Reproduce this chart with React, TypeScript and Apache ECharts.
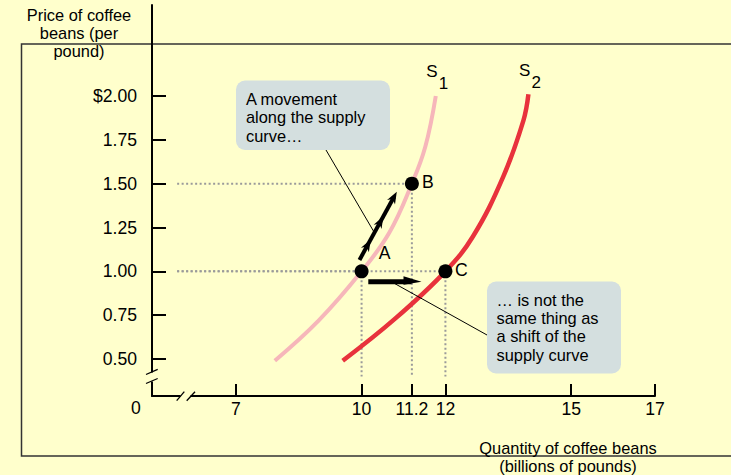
import React, { useEffect, useRef } from "react";
import * as echarts from "echarts";

// ---- data ----
const xTickValues = [7, 10, 11.2, 12, 15, 17];
const yTickValues = [0.5, 0.75, 1.0, 1.25, 1.5, 1.75, 2.0];

const s1X = [7.93, 8.98, 10, 10.66, 11.2, 11.52, 11.77];
const s1Y = [0.49, 0.72, 1.0, 1.22, 1.5, 1.71, 2.0];
const s2X = [9.55, 10.8, 12, 12.66, 13.38, 13.86, 13.98];
const s2Y = [0.49, 0.73, 1.0, 1.2, 1.54, 1.86, 2.01];

const pointNames = ["A", "B", "C"];
const pointX = [10, 11.2, 12];
const pointY = [1.0, 1.5, 1.0];

// arrows (tail, head) in data units
const moveArrowX = [9.95, 10.84];
const moveArrowY = [1.065, 1.454];
const shiftArrowX = [10.16, 11.43];
const shiftArrowY = [0.941, 0.941];

const boxLines1 = ["A movement", "along the supply", "curve…"];
const boxLines2 = ["… is not the", "same thing as", "a shift of the", "supply curve"];
const yTitleLines = ["Price of coffee", "beans (per", "pound)"];
const xTitleLines = ["Quantity of coffee beans", "(billions of pounds)"];

// ---- styles / layout ----
const BG = "#FFFFCC";
const FONT = "'Liberation Sans', Arial, Helvetica, sans-serif";
const FS = 17.6;
const FS_ML = 16.4;
const LH = 18.4;
const GUIDE_START_X = 5.6;
const GUIDE_END_Y = 0.4;

export default function App() {
  const ref = useRef<HTMLDivElement>(null);
  useEffect(() => {
    document.body.style.margin = "0";
    document.body.style.background = BG;
    const chart = echarts.init(ref.current!, undefined, { renderer: "svg" });
    const guideStyle = { color: "#9a9a9a", width: 2, type: [2, 2.5] as any };
    const guides: any[] = [];
    pointX.forEach((x, i) => {
      const y = pointY[i];
      guides.push({
        type: "line",
        data: [[GUIDE_START_X, y], [x, y]],
        symbol: "none",
        lineStyle: guideStyle,
        silent: true,
        z: 1,
      });
      guides.push({
        type: "line",
        data: [[x, y], [x, GUIDE_END_Y]],
        symbol: "none",
        lineStyle: guideStyle,
        silent: true,
        z: 1,
      });
    });
    const labelOffsets: Record<string, number[]> = { A: [23, -18], B: [16, -2], C: [16, -1] };
    chart.setOption({
      animation: false,
      backgroundColor: BG,
      textStyle: { fontFamily: FONT },
      grid: { left: 152, right: 76, top: 5, bottom: 79 },
      xAxis: {
        type: "value",
        min: 5,
        max: 17,
        axisLine: { show: true, lineStyle: { color: "#000", width: 2 } },
        axisTick: { show: true, inside: true, length: 12, customValues: xTickValues, lineStyle: { color: "#000", width: 2 } },
        axisLabel: { customValues: xTickValues, margin: 4, color: "#000", fontSize: FS, fontFamily: FONT },
        splitLine: { show: false },
      },
      yAxis: {
        type: "value",
        min: 0.289,
        max: 2.519,
        axisLine: { show: true, lineStyle: { color: "#000", width: 2 } },
        axisTick: { show: true, inside: true, length: 14, customValues: yTickValues, lineStyle: { color: "#000", width: 2 } },
        axisLabel: {
          customValues: yTickValues,
          margin: 15,
          color: "#000",
          fontSize: FS,
          fontFamily: FONT,
          formatter: (v: number) => (Math.abs(v - 2) < 1e-9 ? "$2.00" : v.toFixed(2)),
        },
        splitLine: { show: false },
      },
      series: [
        ...guides,
        {
          type: "line",
          data: s1X.map((x, i) => [x, s1Y[i]]),
          smooth: 0.4,
          symbol: "none",
          lineStyle: { color: "#F6B6BA", width: 4 },
          z: 3,
        },
        {
          type: "line",
          data: s2X.map((x, i) => [x, s2Y[i]]),
          smooth: 0.4,
          symbol: "none",
          lineStyle: { color: "#E8323C", width: 4.5 },
          z: 3,
        },
        {
          type: "scatter",
          symbolSize: 14,
          itemStyle: { color: "#000", opacity: 1 },
          z: 5,
          data: pointNames.map((n, i) => ({
            value: [pointX[i], pointY[i]],
            name: n,
            label: {
              show: true,
              formatter: n,
              position: "inside",
              offset: labelOffsets[n],
              color: "#000",
              fontSize: FS,
              fontFamily: FONT,
            },
          })),
        },
      ],
    });

    const px = (p: number[]) => chart.convertToPixel({ gridIndex: 0 } as any, p) as number[];
    const g: any[] = [];
    const font = `${FS}px ${FONT}`;
    const fontML = `${FS_ML}px ${FONT}`;
    const lines = (arr: string[], x: number, yCenter0: number, lh: number, align: string) => {
      arr.forEach((t, i) => {
        g.push({
          type: "text",
          x,
          y: yCenter0 + i * lh,
          style: { text: t, font: fontML, fill: "#000", align, verticalAlign: "middle" },
          z: 16,
        });
      });
    };

    // border
    g.push({ type: "rect", shape: { x: 21.5, y: 44, width: 760, height: 412 }, style: { fill: "none", stroke: "#333", lineWidth: 1.5 }, z: 0, silent: true });

    // axis breaks
    g.push({ type: "rect", shape: { x: 180.5, y: 393, width: 10, height: 6 }, style: { fill: BG }, z: 50 });
    g.push({ type: "line", shape: { x1: 176.7, y1: 400.7, x2: 184.3, y2: 391.7 }, style: { stroke: "#000", lineWidth: 1.3 }, z: 51 });
    g.push({ type: "line", shape: { x1: 186.7, y1: 400.7, x2: 195, y2: 391.7 }, style: { stroke: "#000", lineWidth: 1.3 }, z: 51 });
    g.push({ type: "rect", shape: { x: 148.5, y: 372.5, width: 7, height: 9 }, style: { fill: BG }, z: 50 });
    g.push({ type: "line", shape: { x1: 146, y1: 374.5, x2: 157.7, y2: 369.3 }, style: { stroke: "#000", lineWidth: 1.3 }, z: 51 });
    g.push({ type: "line", shape: { x1: 146, y1: 383.5, x2: 157.7, y2: 378.5 }, style: { stroke: "#000", lineWidth: 1.3 }, z: 51 });
    g.push({ type: "text", x: 136, y: 408, style: { text: "0", font, fill: "#000", align: "center", verticalAlign: "middle" }, z: 51 });

    // titles
    lines(yTitleLines, 79, 14.5, LH, "center");
    lines(xTitleLines, 568, 447.5, LH, "center");

    // curve labels
    const t1 = px([s1X[s1X.length - 1], s1Y[s1Y.length - 1]]);
    const t2 = px([s2X[s2X.length - 1], s2Y[s2Y.length - 1]]);
    [[t1, "1"], [t2, "2"]].forEach(([t, sub]: any) => {
      g.push({ type: "text", x: t[0] - 9.5, y: t[1] - 24, style: { text: "S", font: `17px ${FONT}`, fill: "#000", align: "left", verticalAlign: "middle" }, z: 10 });
      g.push({ type: "text", x: t[0] + 3, y: t[1] - 12, style: { text: sub, font: `17px ${FONT}`, fill: "#000", align: "left", verticalAlign: "middle" }, z: 10 });
    });

    // helper for arrowhead
    const head = (tip: number[], ux: number, uy: number, L: number, W: number) => {
      const nx = -uy, ny = ux;
      return {
        type: "polygon",
        shape: {
          points: [
            [tip[0], tip[1]],
            [tip[0] - L * ux + W * nx, tip[1] - L * uy + W * ny],
            [tip[0] - L * ux * 0.7, tip[1] - L * uy * 0.7],
            [tip[0] - L * ux - W * nx, tip[1] - L * uy - W * ny],
          ],
        },
        style: { fill: "#000" },
        z: 20,
      };
    };

    // movement arrow
    const a0 = px([moveArrowX[0], moveArrowY[0]]);
    const a1 = px([moveArrowX[1], moveArrowY[1]]);
    const dx = a1[0] - a0[0], dy = a1[1] - a0[1];
    const len = Math.hypot(dx, dy);
    const ux = dx / len, uy = dy / len;
    g.push({ type: "line", shape: { x1: a0[0], y1: a0[1], x2: a1[0] - ux * 6, y2: a1[1] - uy * 6 }, style: { stroke: "#000", lineWidth: 4 }, z: 20 });
    [0.3, 0.64, 1.0].forEach((t) => {
      g.push(head([a0[0] + dx * t, a0[1] + dy * t], ux, uy, 12, 4.5));
    });

    // shift arrow
    const b0 = px([shiftArrowX[0], shiftArrowY[0]]);
    const b1 = px([shiftArrowX[1], shiftArrowY[1]]);
    g.push({ type: "line", shape: { x1: b0[0], y1: b0[1], x2: b1[0] - 10, y2: b1[1] }, style: { stroke: "#000", lineWidth: 5 }, z: 20 });
    g.push({
      type: "polygon",
      shape: { points: [[b1[0], b1[1]], [b1[0] - 18, b1[1] - 5.5], [b1[0] - 18, b1[1] + 3]] },
      style: { fill: "#000" },
      z: 20,
    });

    // callout boxes
    g.push({ type: "rect", shape: { x: 236, y: 80.5, width: 154, height: 69.5, r: 9 }, style: { fill: "#D4DFDF" }, z: 15 });
    lines(boxLines1, 246, 98.8, LH, "left");
    g.push({ type: "rect", shape: { x: 487, y: 281.5, width: 134, height: 92, r: 9 }, style: { fill: "#D4DFDF" }, z: 15 });
    lines(boxLines2, 496.5, 299.6, LH, "left");

    // leader lines
    const l1 = [a0[0] + dx * 0.4, a0[1] + dy * 0.4];
    g.push({ type: "line", shape: { x1: 326, y1: 150, x2: l1[0], y2: l1[1] }, style: { stroke: "#000", lineWidth: 1 }, z: 14 });
    const l2 = [b0[0] + (b1[0] - b0[0]) * 0.5, b0[1] + 2];
    g.push({ type: "line", shape: { x1: l2[0], y1: l2[1], x2: 487, y2: 335 }, style: { stroke: "#000", lineWidth: 1 }, z: 14 });

    chart.setOption({ graphic: g });
    return () => chart.dispose();
  }, []);
  return <div ref={ref} style={{ width: 731, height: 475, background: BG }} />;
}
